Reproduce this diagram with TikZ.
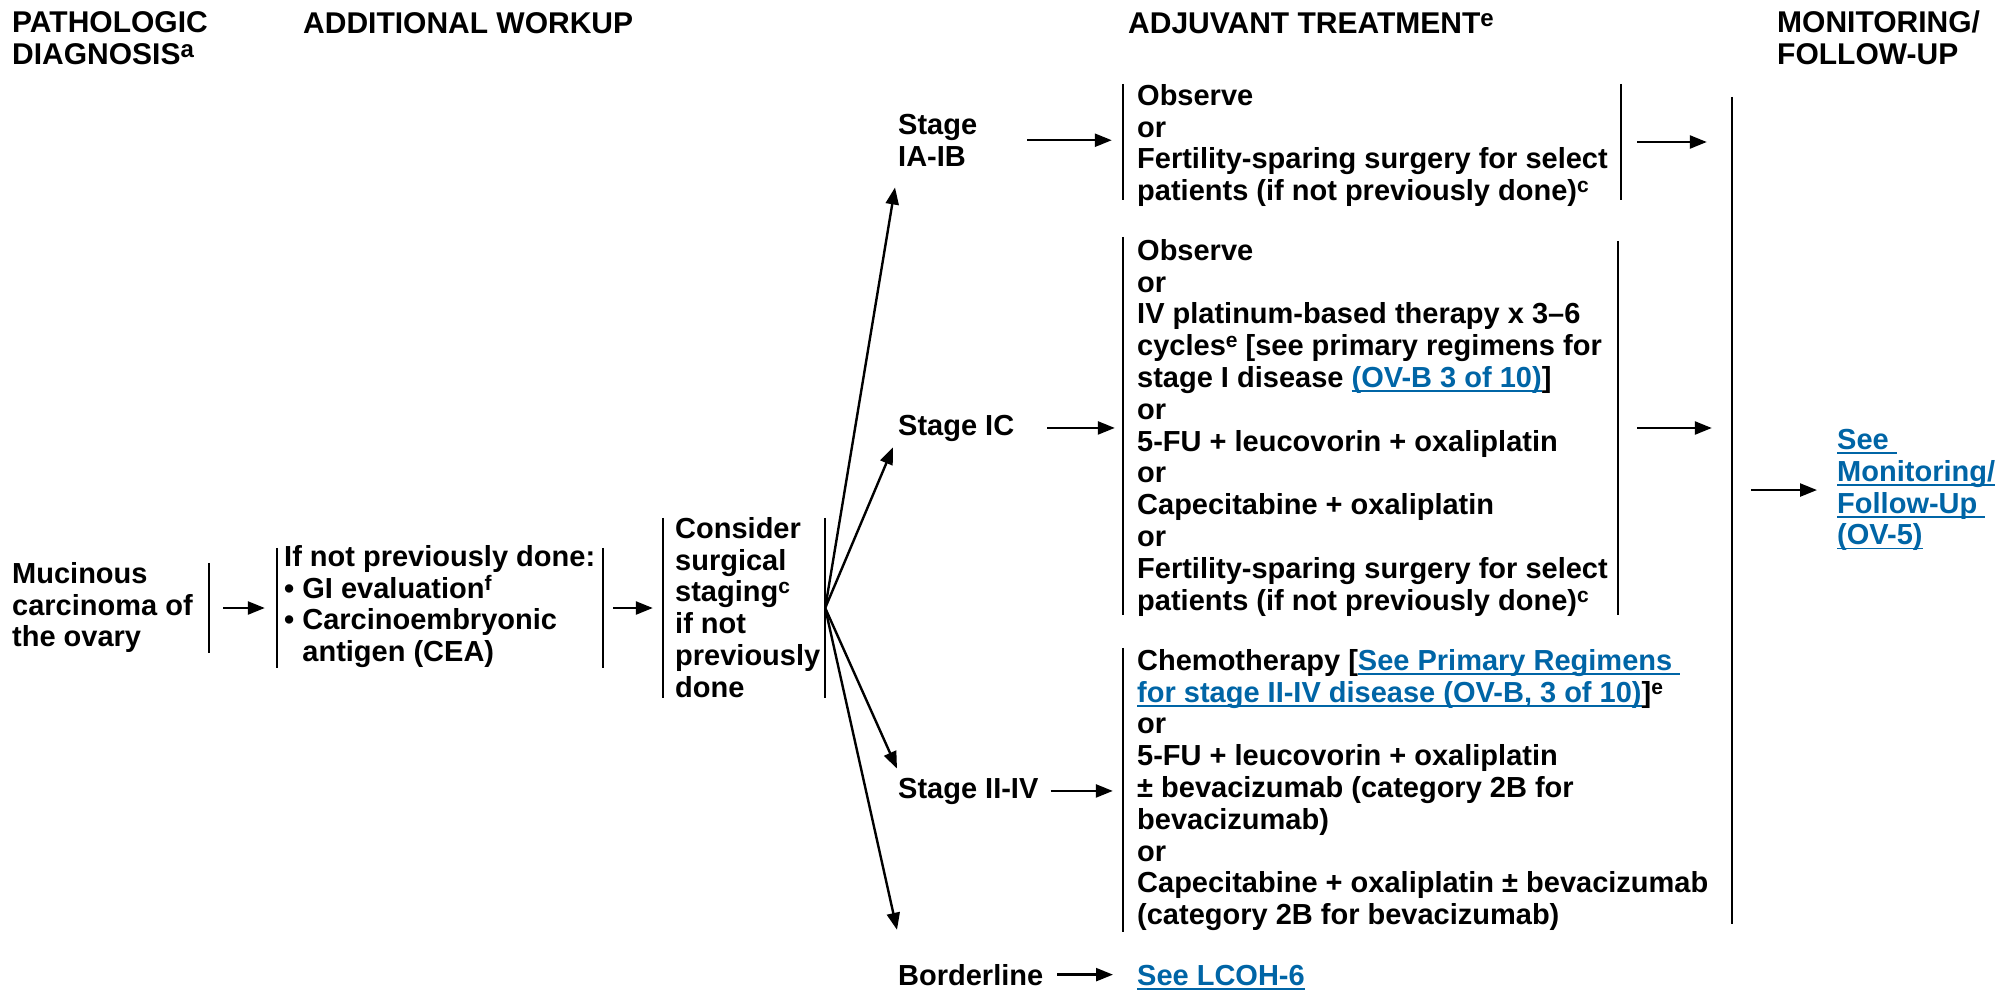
\documentclass[tikz,border=0pt]{standalone}
\usepackage{fontspec}
\setmainfont{Liberation Sans}
\usetikzlibrary{arrows.meta}

\definecolor{linkblue}{RGB}{0,101,166}
\newsavebox{\lnkbox}
\newcommand{\lnk}[1]{\sbox{\lnkbox}{\color{linkblue}#1}%
  {\color{linkblue}\rlap{\rule[-4.5pt]{\wd\lnkbox}{1.8pt}}}\usebox{\lnkbox}}
\newcommand{\sups}[1]{\raisebox{8pt}{\fontsize{21}{21}\selectfont #1}}
\newcommand{\hsups}[1]{\raisebox{7pt}{\fontsize{24}{24}\selectfont #1}}

\begin{document}
\begin{tikzpicture}[x=1pt,y=-1pt,
    txt/.style={inner sep=0pt,anchor=north west,align=left,
      font=\fontsize{29}{31.8}\selectfont\bfseries},
    line/.style={txt,anchor=base west},
    head/.style={txt,font=\fontsize{30}{32}\selectfont\bfseries},
    bar/.style={inner sep=0pt,minimum width=0pt},
    arr/.style={line width=2.4pt,-{Triangle[length=17pt,width=13pt]}}]
  \def\barwidth{2.2pt}

  \useasboundingbox (0,0) rectangle (1997,991);

  % column heads
  \node[head] (hdiag) at (12,11) {PATHOLOGIC\\DIAGNOSIS\hsups{a}};
  \node[head,anchor=base west] (hwork) at (303,33) {ADDITIONAL WORKUP};
  \node[head,anchor=base west] (htx) at (1128,33) {ADJUVANT TREATMENT\hsups{e}};
  \node[head] (hfollow) at (1777,11) {MONITORING/\\FOLLOW-UP};

  % texts
  \node[txt] (diag) at (12,562) {Mucinous\\carcinoma of\\the ovary};
  \node[txt] (workup) at (284,545) {If not previously done:\\
    \textbullet~GI evaluation\sups{f}\\
    \textbullet~Carcinoembryonic\\
    \phantom{\textbullet~}antigen (CEA)};
  \node[txt] (staging) at (675,517)
    {Consider\\surgical\\staging\sups{c}\\if not\\previously\\done};

  \node[txt] (stageAB) at (898,114) {Stage\\IA-IB};
  \node[line] (stageC) at (898,435) {Stage IC};
  \node[line] (stageD) at (898,798) {Stage II-IV};
  \node[line] (border) at (898,985) {Borderline};

  \node[txt] (txAB) at (1137,84) {Observe\\or\\
    Fertility-sparing surgery for select\\
    patients (if not previously done)\sups{c}};
  \node[txt] (txC) at (1137,239) {Observe\\or\\
    IV platinum-based therapy x 3--6\\
    cycles\sups{e} [see primary regimens for\\
    stage I disease \lnk{(OV-B 3 of 10)}]\\or\\
    5-FU + leucovorin + oxaliplatin\\or\\
    Capecitabine + oxaliplatin\\or\\
    Fertility-sparing surgery for select\\
    patients (if not previously done)\sups{c}};
  \node[txt] (txD) at (1137,649) {Chemotherapy [\lnk{See Primary Regimens\ }\\
    \lnk{for stage II-IV disease (OV-B, 3 of 10)}]\sups{e}\\or\\
    5-FU + leucovorin + oxaliplatin\\
    ± bevacizumab (category 2B for\\
    bevacizumab)\\or\\
    Capecitabine + oxaliplatin ± bevacizumab\\
    (category 2B for bevacizumab)};
  \node[line] (lcoh) at (1137,985) {\lnk{See LCOH-6}};
  \node[txt] (follow) at (1837,429)
    {\lnk{See\ }\\\lnk{Monitoring/}\\\lnk{Follow-Up\ }\\\lnk{(OV-5)}};

  % bars
  \node[bar,minimum height=90pt] (dbar) at (209,608) {};
  \node[bar,minimum height=120pt] (wbarL) at (277,608) {};
  \node[bar,minimum height=120pt] (wbarR) at (603,608) {};
  \node[bar,minimum height=180pt] (sbarL) at (663,608) {};
  \node[bar,minimum height=180pt] (sbarR) at (825,608) {};
  \node[bar,minimum height=116pt] (abarL) at (1123,142) {};
  \node[bar,minimum height=116pt] (abarR) at (1621,142) {};
  \node[bar,minimum height=378pt] (cbarL) at (1123,426) {};
  \node[bar,minimum height=374pt] (cbarR) at (1618,428) {};
  \node[bar,minimum height=284pt] (dbarL) at (1123,790) {};
  \node[bar,minimum height=827pt] (mbar) at (1732,510.5) {};

  \foreach \b in {dbar,wbarL,wbarR,sbarL,sbarR,abarL,abarR,cbarL,cbarR,dbarL,mbar}
    \draw[line width=\barwidth] (\b.north) -- (\b.south);

  % arrows
  \draw[arr,shorten <=14pt,shorten >=12pt] (dbar.east) -- (dbar.east -| wbarL.west);
  \draw[arr,shorten <=10pt,shorten >=10pt] (wbarR.east) -- (wbarR.east -| sbarL.west);

  \coordinate (tipAB) at ([shift={(-3,21)}]stageAB.south west);
  \coordinate (tipC) at ([shift={(-5,6)}]stageC.south west);
  \coordinate (tipD) at ([shift={(-1,-9)}]stageD.north west);
  \coordinate (tipB) at ([shift={(-1,-34)}]border.north west);
  \foreach \t in {tipAB,tipC,tipD,tipB}
    \draw[arr] (sbarR.east) -- (\t);

  \draw[arr,shorten <=50pt,shorten >=11pt] (stageAB.east) -- (stageAB.east -| abarL.west);
  \draw[arr,shorten <=33pt,shorten >=8pt] (stageC.east) -- (stageC.east -| cbarL.west);
  \draw[arr,shorten <=12pt,shorten >=10pt] (stageD.east) -- (stageD.east -| dbarL.west);
  \draw[arr,shorten <=14pt,shorten >=24pt] (border.east) -- (border.east -| lcoh.west);

  \draw[arr,shorten <=16pt,shorten >=25pt] (abarR.east) -- (abarR.east -| mbar.west);
  \draw[arr,shorten <=19pt,shorten >=20pt] (cbarR.east) -- (cbarR.east -| mbar.west);
  \draw[arr,shorten <=19pt,shorten >=20pt] (follow.west -| mbar.east) -- (follow.west);
\end{tikzpicture}
\end{document}
